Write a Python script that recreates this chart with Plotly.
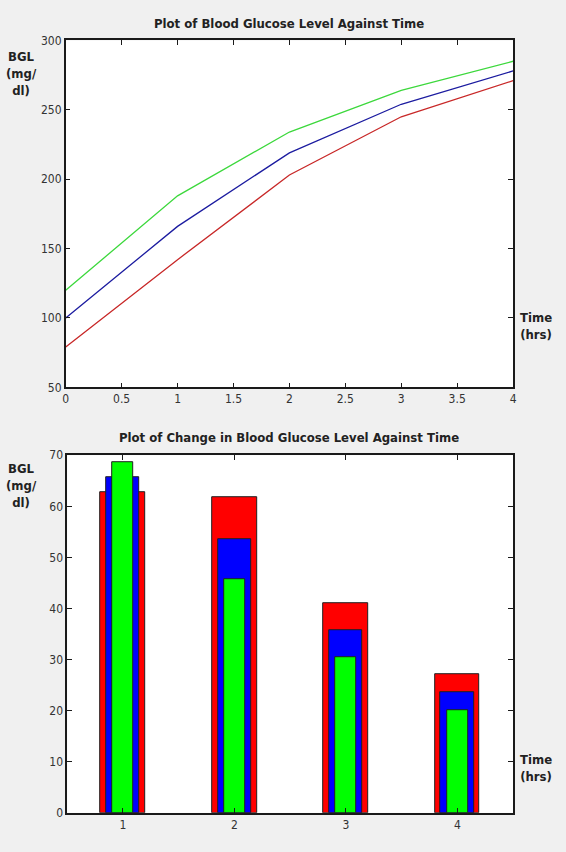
import plotly.graph_objects as go

# ---- data ----
time_hrs = [0, 1, 2, 3, 4]
bgl_green = [120, 188, 234, 264, 285]
bgl_blue = [100, 166, 219, 254, 278]
bgl_red = [79, 142, 203, 245, 271]

change_hours = [1, 2, 3, 4]
change_red = [62.7, 61.7, 41.1, 27.2]
change_blue = [65.6, 53.6, 35.7, 23.7]
change_green = [68.6, 45.8, 30.5, 20.1]

top_xticks = [0, 0.5, 1, 1.5, 2, 2.5, 3, 3.5, 4]
top_yticks = [50, 100, 150, 200, 250, 300]
bot_yticks = [0, 10, 20, 30, 40, 50, 60, 70]

FONT = "Liberation Sans Narrow, Arial Narrow, DejaVu Sans Condensed, sans-serif"
W, H = 566, 852

fig = go.Figure()

# top line plot
for ys, col in [(bgl_red, "#c82828"), (bgl_blue, "#1c1ca0"), (bgl_green, "#3cd83c")]:
    fig.add_trace(go.Scatter(x=time_hrs, y=ys, mode="lines",
                             line=dict(color=col, width=1.3),
                             xaxis="x", yaxis="y", showlegend=False))

# bottom overlaid bars
for ys, col, w in [(change_red, "#ff0000", 0.40), (change_blue, "#0000ff", 0.30),
                   (change_green, "#00ff00", 0.19)]:
    fig.add_trace(go.Bar(x=change_hours, y=ys, width=w,
                         marker=dict(color=col, line=dict(color="#202020", width=1)),
                         xaxis="x2", yaxis="y2", showlegend=False))

axis_common = dict(showgrid=False, zeroline=False, showline=True, linecolor="#1a1a1a",
                   linewidth=1.5, mirror="ticks", ticks="inside", ticklen=5,
                   tickcolor="#1a1a1a", tickfont=dict(family=FONT, size=12, color="#333333"))

fig.update_layout(
    width=W, height=H,
    margin=dict(l=0, r=0, t=0, b=0),
    paper_bgcolor="#f0f0f0", plot_bgcolor="#ffffff",
    barmode="overlay",
    xaxis=dict(domain=[63.5 / W, 516.5 / W], range=[0, 4], tickvals=top_xticks,
               ticktext=[("%g" % v) for v in top_xticks], anchor="y", **axis_common),
    yaxis=dict(domain=[1 - 386.7 / H, 1 - 34 / H], range=[50, 300], tickvals=top_yticks,
               anchor="x", **axis_common),
    xaxis2=dict(domain=[65 / W, 516.5 / W], range=[0.5, 4.5], tickvals=change_hours,
                anchor="y2", **axis_common),
    yaxis2=dict(domain=[1 - 819.3 / H, 1 - 455.7 / H], range=[0, 70], tickvals=bot_yticks,
                anchor="x2", **axis_common),
    bargap=0,
)

ann_font = dict(family=FONT, size=13, color="#222222")
title_font = dict(family=FONT, size=13, color="#222222")


def ann(x, y, text, font, xanchor="center", yanchor="middle", align="center"):
    fig.add_annotation(x=x / W, y=1 - y / H, xref="paper", yref="paper", text=text,
                       showarrow=False, font=font, xanchor=xanchor, yanchor=yanchor, align=align)


ann(290, 17, "<b>Plot of Blood Glucose Level Against Time</b>", title_font)
ann(290, 438, "<b>Plot of Change in Blood Glucose Level Against Time</b>", title_font)
ann(19, 68, "<b>BGL<br>(mg/<br>dl)</b>", ann_font)
ann(19, 487, "<b>BGL<br>(mg/<br>dl)</b>", ann_font)
ann(540, 324, "<b>Time<br>(hrs)</b>", ann_font)
ann(540, 774, "<b>Time<br>(hrs)</b>", ann_font)

fig.write_html("out.html")
